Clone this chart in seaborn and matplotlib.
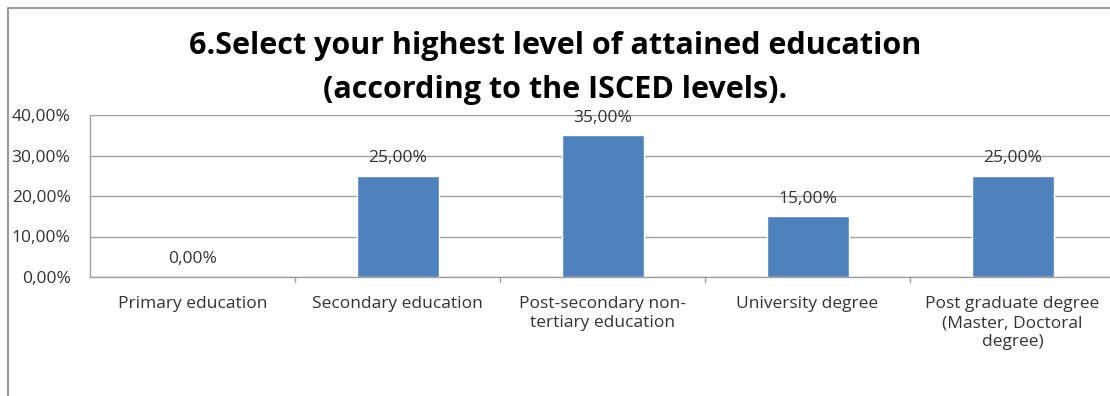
import matplotlib
matplotlib.use("Agg")
import matplotlib.pyplot as plt
import seaborn as sns
import pandas as pd
from matplotlib.lines import Line2D
from matplotlib.ticker import FuncFormatter

categories = ["Primary education", "Secondary education",
              "Post-secondary non-\ntertiary education", "University degree",
              "Post graduate degree\n(Master, Doctoral\ndegree)"]
values = [0.0, 25.0, 35.0, 15.0, 25.0]
yticks = [0, 10, 20, 30, 40]
title = "6.Select your highest level of attained education\n(according to the ISCED levels)."

sns.set_theme(style="white")
plt.rcParams['font.family'] = ['Open Sans', 'DejaVu Sans']

df = pd.DataFrame({"cat": categories, "val": values})
fig = plt.figure(figsize=(11.1, 3.96), dpi=100)
ax = fig.add_axes([90/1110, 1-277/396, 1025/1110, 162/396])
sns.barplot(data=df, x="cat", y="val", color="#4F81BD", width=0.4, ax=ax, saturation=1)
ax.set_xlim(-0.5, 4.5)
ax.set_ylim(0, 40)
ax.set_yticks(yticks)
ax.yaxis.set_major_formatter(FuncFormatter(lambda v, p: f"{v:.2f}%".replace(".", ",")))
ax.grid(axis="y", color="#A0A0A0", linewidth=1)
ax.set_axisbelow(True)
for s in ["top", "right"]:
    ax.spines[s].set_visible(False)
for s in ["left", "bottom"]:
    ax.spines[s].set_color("#A0A0A0")
    ax.spines[s].set_linewidth(1)
ax.set_xlabel("")
ax.set_ylabel("")
ax.tick_params(axis="both", labelsize=12.5, colors="#333333", length=0, pad=14)
ax.tick_params(axis="x", pad=14)
for lbl in ax.get_xticklabels():
    lbl.set_linespacing(1.25)
    lbl.set_va("top")
# boundary tick marks
for b in [0.5, 1.5, 2.5, 3.5]:
    ax.plot([b, b], [0, -1.2], color="#A0A0A0", lw=1, clip_on=False)
for i, v in enumerate(values):
    ax.annotate(f"{v:.2f}%".replace(".", ","), (i, v), xytext=(0, 7),
                textcoords="offset points", ha="center", va="bottom",
                fontsize=12.5, color="#333333")
fig.text(0.5, 1-68/396, title, ha="center", va="center", fontsize=22,
         fontweight="bold", linespacing=1.6, color="black")
fig.add_artist(Line2D([8/1110, 1], [1-8/396, 1-8/396], color="#9A9A9A", lw=1.5, transform=fig.transFigure))
fig.add_artist(Line2D([8/1110, 8/1110], [0, 1-8/396], color="#9A9A9A", lw=1.5, transform=fig.transFigure))
fig.savefig("out.png", dpi=100)
